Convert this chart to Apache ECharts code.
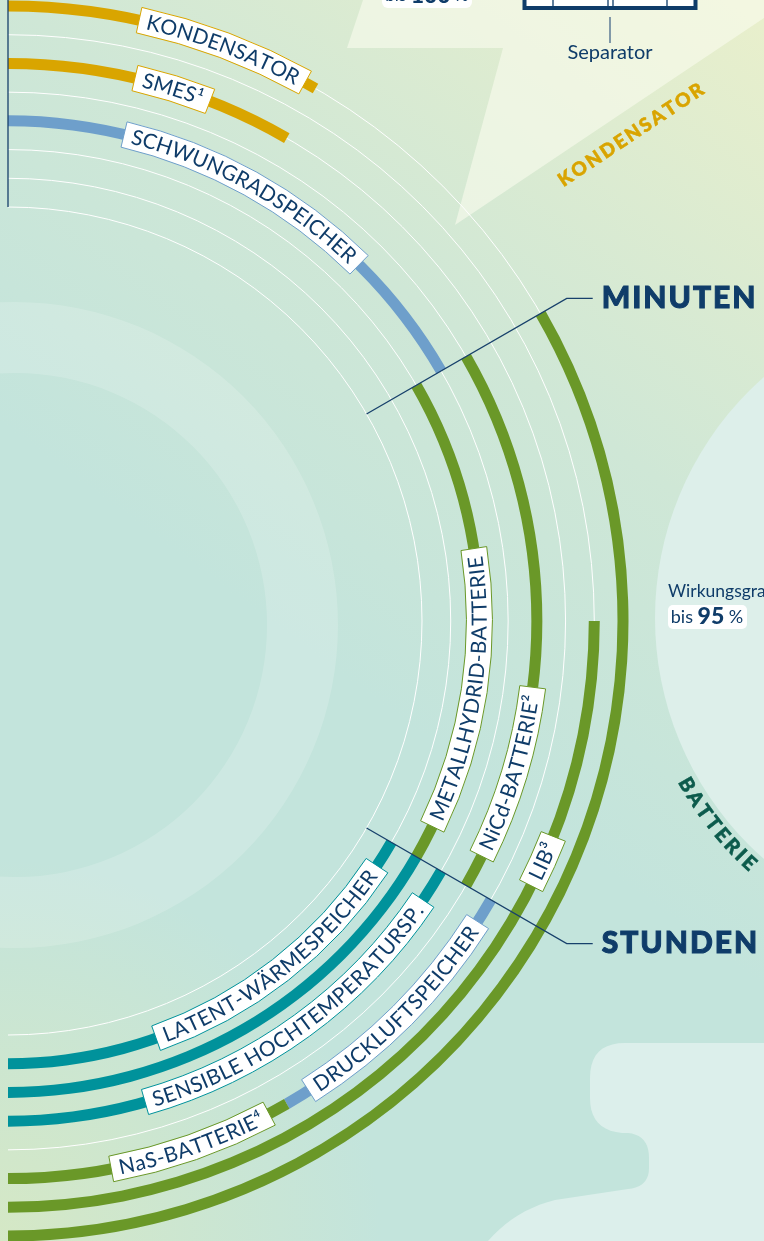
<!DOCTYPE html>
<html>
<head>
<meta charset="utf-8">
<script src="https://cdn.jsdelivr.net/npm/echarts@6/dist/echarts.min.js"></script>
<style>
  html, body { margin: 0; padding: 0; }
  #chart { width: 764px; height: 1241px; }
</style>
</head>
<body>
<div id="chart"></div>
<script>
// Speicher-Segmente: Ring (0 = innen, 7 = außen), Start-/Endwinkel in Grad (0 = oben, im Uhrzeigersinn)
const segRing  = [7, 5, 3, 2, 2, 4, 7, 6, 1, 3, 5, 5];
const segStart = [0, 0, 0, 60, 120, 60, 60, 90, 120, 120, 120, 150];
const segEnd   = [30, 30, 60, 120, 180, 120, 180, 180, 180, 180, 150, 180];
const segGroup = ['elektrisch', 'elektrisch', 'mechanisch', 'chemisch', 'thermisch', 'chemisch',
                  'chemisch', 'chemisch', 'thermisch', 'thermisch', 'mechanisch', 'chemisch'];
const segLabel = ['KONDENSATOR', 'SMES¹', 'SCHWUNGRADSPEICHER', 'METALLHYDRID-BATTERIE', '',
                  'NiCd-BATTERIE²', '', 'LIB³', 'LATENT-WÄRMESPEICHER', 'SENSIBLE HOCHTEMPERATURSP.',
                  'DRUCKLUFTSPEICHER', 'NaS-BATTERIE⁴'];
const ringIds = [0, 1, 2, 3, 4, 5, 6, 7];
// Zeitgrenzen
const boundaryAngle = [0, 60, 120];
const boundaryName  = ['', 'MINUTEN', 'STUNDEN'];

// ---- Layout / Stil ----
const W = 764, H = 1241;
const NAVY = '#0f3c69';
const groupColor = { elektrisch: '#d9a500', mechanisch: '#6e9fcb', chemisch: '#6a9828', thermisch: '#00929b' };
const labelAngle = { 0: 20.6, 1: 17.2, 2: 29, 3: 98.5, 5: 106.8, 7: 114.2, 8: 142, 9: 144, 10: 135, 11: 160.7 };
const BAND = 11, BOX = 26, BOX_PAD = 8;
const LABEL_FONT = '21px Lato', LABEL_GAP = 0.3;
const LINE_OUT = 8.05; // Radiuswert, bis zu dem die Grenzlinien reichen

const mctx = document.createElement('canvas').getContext('2d');
function layoutChars(str, font, gap) {
  mctx.font = font;
  const chars = Array.from(str);
  const items = [];
  let pos = 0;
  chars.forEach((c, i) => {
    const w = mctx.measureText(c).width;
    items.push({ ch: c, mid: pos + w / 2 });
    pos += w + (i < chars.length - 1 ? gap : 0);
  });
  return { items, width: pos };
}
function txt(ch, x, y, rot, font, fill, heavy) {
  const style = { text: ch, font, fill, align: 'center', verticalAlign: 'middle', textAlign: 'center', textVerticalAlign: 'middle' };
  if (heavy) { style.stroke = fill; style.lineWidth = heavy; }
  return { type: 'text', x, y, rotation: rot, style };
}
// dir 1: im Uhrzeigersinn lesen (Oberkante außen), dir -1: gegen Uhrzeigersinn (Oberkante innen)
function arcText(str, font, gap, cx, cy, r, aMid, dir, fill, heavy) {
  const L = layoutChars(str, font, gap);
  const a0 = aMid - dir * L.width / 2 / r;
  const els = L.items.map(it => {
    const a = a0 + dir * it.mid / r;
    return txt(it.ch, cx + r * Math.cos(a), cy + r * Math.sin(a),
      dir > 0 ? -(a + Math.PI / 2) : (Math.PI / 2 - a), font, fill, heavy);
  });
  return { els, span: L.width / r };
}
function straightText(str, font, gap, x, y, rot, fill, centered, heavy) {
  const L = layoutChars(str, font, gap);
  const c = Math.cos(rot), s = Math.sin(rot);
  const off = centered ? -L.width / 2 : 0;
  return L.items.map(it => txt(it.ch, x + (off + it.mid) * c, y - (off + it.mid) * s, rot, font, fill, heavy));
}
function polarInfo(params, api, k, ang) {
  const cs = params.coordSys;
  const p = api.coord([k, ang]);
  return { cx: cs.cx, cy: cs.cy, p, r: Math.hypot(p[0] - cs.cx, p[1] - cs.cy), a: Math.atan2(p[1] - cs.cy, p[0] - cs.cx) };
}
// einfacher Umriss aus Punkten und quadratischen Kurven
function outline(cmds) {
  const pts = [];
  let cur = null;
  cmds.forEach(c => {
    if (c.length === 2) { pts.push(c); cur = c; }
    else {
      for (let t = 0.1; t <= 1.0001; t += 0.1) {
        const u = 1 - t;
        pts.push([u * u * cur[0] + 2 * u * t * c[0] + t * t * c[2], u * u * cur[1] + 2 * u * t * c[1] + t * t * c[3]]);
      }
      cur = [c[2], c[3]];
    }
  });
  return pts;
}

const segData = segRing.map((k, i) => [k, segStart[i], segEnd[i], i]);
const labelData = segData.filter(d => segLabel[d[3]] !== '');

// ---- Dekoration ----
const deco = [];
deco.push({ type: 'rect', z: 0, silent: true, shape: { x: 0, y: 0, width: W, height: H },
  style: { fill: new echarts.graphic.LinearGradient(0.95, 0, 0.35, 0.5, [
    { offset: 0, color: '#e8efcc' }, { offset: 0.55, color: '#cfe7d6' }, { offset: 1, color: '#c3e4dc' }]) } });
deco.push({ type: 'rect', z: 0, silent: true, shape: { x: 0, y: 0, width: W, height: H },
  style: { fill: new echarts.graphic.RadialGradient(0, 1, 0.5, [
    { offset: 0, color: 'rgba(214,232,196,0.95)' }, { offset: 1, color: 'rgba(214,232,196,0)' }]) } });
deco.push({ type: 'polygon', z: 0, silent: true,
  shape: { points: [[363, 0], [347, 48], [503, 48], [455, 225], [764, 18], [764, 0]] },
  style: { fill: 'rgba(250,252,238,0.6)' } });
deco.push({ type: 'ring', z: 0, silent: true, shape: { cx: 15, cy: 625, r: 323, r0: 252 },
  style: { fill: 'rgba(255,255,255,0.17)' } });
deco.push({ type: 'circle', z: 0, silent: true, shape: { cx: 976, cy: 618, r: 321 }, style: { fill: '#ddefea' } });
deco.push({ type: 'polygon', z: 0, silent: true,
  shape: { points: outline([[764, 1043], [625, 1043], [590, 1043, 590, 1078], [590, 1098], [590, 1130, 622, 1133],
    [628, 1133], [649, 1135, 649, 1158], [649, 1168], [649, 1187, 628, 1189], [555, 1200], [515, 1210, 488, 1241], [764, 1241]]) },
  style: { fill: '#dcefeb' } });
// Kondensator-Schriftzug
straightText('KONDENSATOR', '900 19px Lato', 2.4, 631, 135, 33.6 * Math.PI / 180, '#d9a400', true, 0.6)
  .forEach(e => deco.push(Object.assign(e, { z: 1, silent: true })));
// Batterie-Schriftzug
arcText('BATTERIE', '900 20px Lato', 2.8, 976, 618, 334, 141.5 * Math.PI / 180, -1, '#0c5b4c', 0.6).els
  .forEach(e => deco.push(Object.assign(e, { z: 1, silent: true })));
// Separator-Skizze
deco.push({ type: 'rect', z: 1, silent: true, shape: { x: 524.5, y: -30, width: 171, height: 38 },
  style: { fill: '#fff', stroke: NAVY, lineWidth: 4 } });
[553, 608, 613, 667].forEach(x => deco.push({ type: 'line', z: 1, silent: true,
  shape: { x1: x, y1: -30, x2: x, y2: 7 }, style: { stroke: NAVY, lineWidth: 1.3 } }));
deco.push({ type: 'line', z: 1, silent: true, shape: { x1: 610, y1: 17, x2: 610, y2: 43 }, style: { stroke: '#5d7a95', lineWidth: 1.5 } });
deco.push({ type: 'text', z: 1, silent: true, x: 610, y: 53,
  style: { text: 'Separator', font: '20px Lato', fill: NAVY, align: 'center', verticalAlign: 'middle', textAlign: 'center', textVerticalAlign: 'middle' } });
// Wirkungsgrad-Kästchen
deco.push({ type: 'rect', z: 1, silent: true, shape: { x: 382, y: -22, width: 90, height: 30, r: 6 }, style: { fill: '#fff' } });
deco.push({ type: 'text', z: 1, silent: true, x: 427, y: -4,
  style: { text: '{a|bis }{b|100}{a| %}', align: 'center', verticalAlign: 'middle', textAlign: 'center', textVerticalAlign: 'middle',
    rich: { a: { font: '17px Lato', fill: NAVY }, b: { font: '900 23px Lato', fill: NAVY } } } });
deco.push({ type: 'text', z: 1, silent: true, x: 668, y: 591,
  style: { text: 'Wirkungsgrad', font: '17.5px Lato', fill: NAVY, align: 'left', verticalAlign: 'middle', textAlign: 'left', textVerticalAlign: 'middle' } });
deco.push({ type: 'rect', z: 1, silent: true, shape: { x: 668, y: 605, width: 79, height: 24, r: 5 }, style: { fill: '#fff' } });
deco.push({ type: 'text', z: 1, silent: true, x: 707, y: 617,
  style: { text: '{a|bis }{b|95}{a| %}', align: 'center', verticalAlign: 'middle', textAlign: 'center', textVerticalAlign: 'middle',
    rich: { a: { font: '18px Lato', fill: NAVY }, b: { font: '900 23px Lato', fill: NAVY } } } });

const chart = echarts.init(document.getElementById('chart'));
chart.setOption({
  animation: false,
  graphic: { elements: deco },
  polar: { center: [8, 621], radius: [414, 615] },
  radiusAxis: { type: 'value', min: 0, max: 7, show: false },
  angleAxis: { type: 'value', min: 0, max: 360, startAngle: 90, clockwise: true, show: false },
  series: [
    { // dünne weiße Ringe
      type: 'custom', coordinateSystem: 'polar', z: 2, silent: true,
      data: ringIds.map(k => [k, 0, 180]),
      encode: { radius: 0, angle: [1, 2] },
      renderItem(params, api) {
        const s = polarInfo(params, api, api.value(0), api.value(1));
        const e = polarInfo(params, api, api.value(0), api.value(2));
        return { type: 'arc', shape: { cx: s.cx, cy: s.cy, r: s.r, startAngle: s.a, endAngle: e.a, clockwise: true },
          style: { stroke: '#ffffff', lineWidth: 1, fill: null } };
      }
    },
    { // farbige Speicherbögen
      type: 'custom', coordinateSystem: 'polar', z: 3, silent: true,
      data: segData,
      encode: { radius: 0, angle: [1, 2] },
      renderItem(params, api) {
        const i = api.value(3);
        const s = polarInfo(params, api, api.value(0), api.value(1));
        const e = polarInfo(params, api, api.value(0), api.value(2));
        return { type: 'sector',
          shape: { cx: s.cx, cy: s.cy, r0: s.r - BAND / 2, r: s.r + BAND / 2, startAngle: s.a, endAngle: e.a, clockwise: true },
          style: { fill: groupColor[segGroup[i]] } };
      }
    },
    { // Beschriftungen entlang der Bögen
      type: 'custom', coordinateSystem: 'polar', z: 4, silent: true,
      data: labelData,
      encode: { radius: 0, angle: [1, 2] },
      renderItem(params, api) {
        const i = api.value(3);
        const ang = labelAngle[i];
        const m = polarInfo(params, api, api.value(0), ang);
        const dir = ang < 60 ? 1 : -1;
        const t = arcText(segLabel[i], LABEL_FONT, LABEL_GAP, m.cx, m.cy, m.r + (dir > 0 ? -0.5 : 0.5), m.a, dir, NAVY);
        const half = t.span / 2 + BOX_PAD / m.r;
        const box = { type: 'sector',
          shape: { cx: m.cx, cy: m.cy, r0: m.r - BOX / 2, r: m.r + BOX / 2, startAngle: m.a - half, endAngle: m.a + half, clockwise: true },
          style: { fill: '#ffffff', stroke: groupColor[segGroup[i]], lineWidth: 1 } };
        return { type: 'group', children: [box].concat(t.els) };
      }
    },
    { // Zeitgrenzen Minuten / Stunden
      type: 'custom', coordinateSystem: 'polar', z: 5, silent: true,
      data: boundaryAngle.map((a, i) => [0, a, i]),
      encode: { radius: 0, angle: 1 },
      renderItem(params, api) {
        const ang = api.value(1), i = api.value(2);
        const pIn = api.coord([0, ang]), pOut = api.coord([LINE_OUT, ang]);
        const children = [
          { type: 'polyline', shape: { points: [pIn, pOut, [pOut[0] + 26, pOut[1]]] },
            style: { stroke: '#17406b', lineWidth: 1.3, fill: null } }
        ];
        if (boundaryName[i]) {
          straightText(boundaryName[i], '900 30px Lato', 2.0, pOut[0] + 35, pOut[1], 0, NAVY, false, 1)
            .forEach(e => children.push(e));
        }
        return { type: 'group', children };
      }
    }
  ]
});
</script>
</body>
</html>
